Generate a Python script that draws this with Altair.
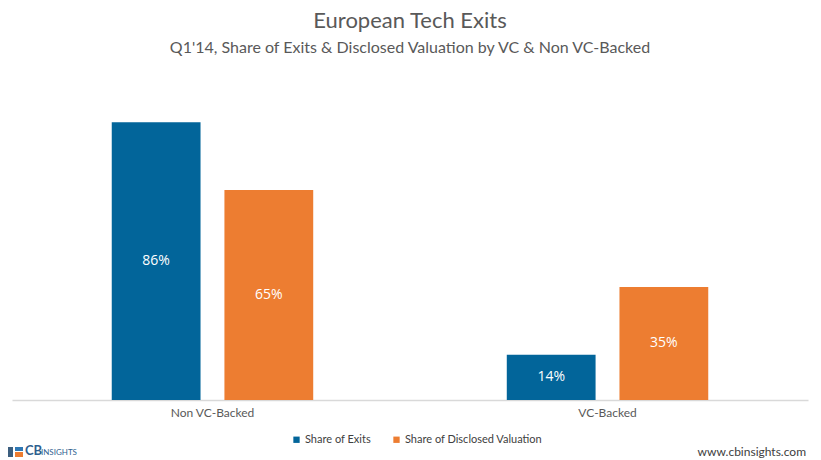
import altair as alt
import pandas as pd

categories = ["Non VC-Backed", "VC-Backed"]
series = ["Share of Exits", "Share of Disclosed Valuation"]
share_of_exits = [86, 14]
share_of_valuation = [65, 35]
colors = ["#02659A", "#ED7D31"]

rows = []
for i, c in enumerate(categories):
    rows.append({"Category": c, "Series": series[0], "Value": share_of_exits[i]})
    rows.append({"Category": c, "Series": series[1], "Value": share_of_valuation[i]})
df = pd.DataFrame(rows)

x_enc = alt.X(
    "Category:N",
    sort=categories,
    scale=alt.Scale(paddingInner=0.49, paddingOuter=0.2525),
    axis=alt.Axis(
        title=None,
        labelAngle=0,
        labelFont="Lato",
        labelFontSize=12,
        labelColor="#595959",
        labelPadding=7,
        ticks=False,
        domainColor="#D9D9D9",
        domainWidth=1.5,
        grid=False,
    ),
)
xoff_enc = alt.XOffset(
    "Series:N", sort=series, scale=alt.Scale(paddingInner=0.212, paddingOuter=0)
)

base = alt.Chart(df)

bars = base.mark_bar().encode(
    x=x_enc,
    xOffset=xoff_enc,
    y=alt.Y("Value:Q", scale=alt.Scale(domain=[0, 100]), axis=None),
    color=alt.Color(
        "Series:N",
        sort=series,
        scale=alt.Scale(domain=series, range=colors),
        legend=alt.Legend(
            title=None,
            orient="none",
            direction="horizontal",
            legendX=279,
            legendY=357,
            symbolType="square",
            symbolSize=40,
            symbolStrokeWidth=0,
            labelFont="Lato",
            labelFontSize=11,
            labelColor="#404040",
            labelOffset=3,
            columnPadding=20,
            padding=0,
        ),
    ),
)

labels = base.transform_calculate(
    mid="datum.Value / 2", lbl="datum.Value + '%'"
).mark_text(
    color="white", font="Open Sans", fontSize=14, baseline="middle", align="center"
).encode(
    x=x_enc,
    xOffset=xoff_enc,
    y=alt.Y("mid:Q", scale=alt.Scale(domain=[0, 100]), axis=None),
    text="lbl:N",
)

footer_df = pd.DataFrame({"site": ["www.cbinsights.com"]})
site = alt.Chart(footer_df).mark_text(
    font="Lato", fontSize=12, color="#404040", align="right", baseline="bottom"
).encode(text="site:N", x=alt.value(794), y=alt.value(382))

logo_df = pd.DataFrame({"cb": ["CB"], "ins": ["INSIGHTS"]})
logo_cb = alt.Chart(logo_df).mark_text(
    font="Lato", fontSize=13, fontWeight="bold", color="#2F5F8F", align="left", baseline="bottom"
).encode(text="cb:N", x=alt.value(13), y=alt.value(381))
logo_ins = alt.Chart(logo_df).mark_text(
    font="Lato", fontSize=8, color="#2F5F8F", align="left", baseline="bottom"
).encode(text="ins:N", x=alt.value(29), y=alt.value(380))
icon_a = alt.Chart(logo_df).mark_rect(color="#3C5F7F").encode(
    x=alt.value(-9), x2=alt.value(1), y=alt.value(370), y2=alt.value(380)
)
icon_b = alt.Chart(logo_df).mark_rect(color="#2F78B4").encode(
    x=alt.value(3), x2=alt.value(11), y=alt.value(370), y2=alt.value(374)
)
icon_c = alt.Chart(logo_df).mark_rect(color="#ED7D31").encode(
    x=alt.value(3), x2=alt.value(11), y=alt.value(375), y2=alt.value(380)
)

chart = (
    alt.layer(bars, labels, site, logo_cb, logo_ins, icon_a, icon_b, icon_c)
    .properties(
        width=796,
        height=323,
        autosize=alt.AutoSizeParams(type="none"),
        padding={"left": 4, "top": 69, "right": 5, "bottom": 60},
        title=alt.TitleParams(
            text="European Tech Exits",
            subtitle="Q1'14, Share of Exits & Disclosed Valuation by VC & Non VC-Backed",
            font="Lato",
            fontSize=22,
            fontWeight="normal",
            color="#595959",
            subtitleFont="Lato",
            subtitleFontSize=16,
            subtitleColor="#595959",
            subtitlePadding=7,
            anchor="middle",
            offset=20,
        ),
    )
    .configure_view(stroke=None)
)

chart.save("out.html", embed_options={"renderer": "svg", "actions": False})
